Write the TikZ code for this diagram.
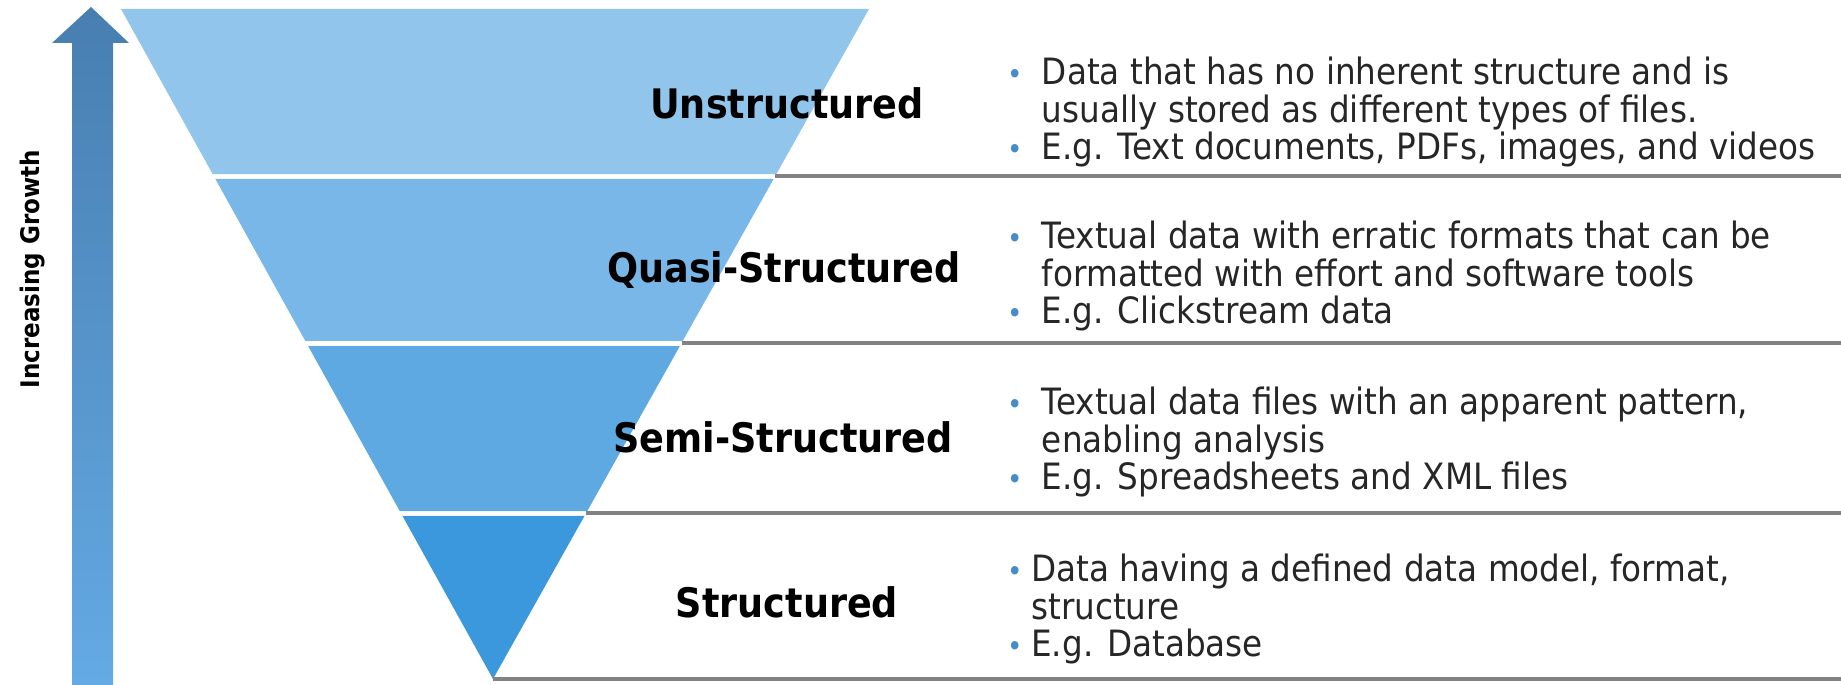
\documentclass[tikz,border=0pt]{standalone}
\usepackage{fontspec}
\setmainfont[FakeStretch=0.9]{DejaVu Sans}
\usetikzlibrary{calc}
\definecolor{bandone}{RGB}{146,197,236}
\definecolor{bandtwo}{RGB}{120,183,232}
\definecolor{bandthree}{RGB}{94,169,225}
\definecolor{bandfour}{RGB}{60,152,220}
\definecolor{arrowtop}{RGB}{72,126,176}
\definecolor{arrowbottom}{RGB}{100,170,228}
\definecolor{dotblue}{RGB}{70,140,200}
\definecolor{rulegray}{RGB}{130,130,130}
\newcommand{\dotitem}[1][26pt]{\makebox[#1][l]{\textcolor{dotblue}{\scalebox{0.8}{\textbullet}}}}
\tikzset{
  band label/.style={font=\bfseries\fontsize{30.5}{34}\selectfont, text=black, inner sep=0.75pt},
  bullet text/.style={anchor=west, align=left, font=\fontsize{27.2}{27.8}\selectfont, text=black!85, inner sep=0.75pt},
  rule line/.style={draw=rulegray, line width=2.4pt},
}
\begin{document}
\begin{tikzpicture}[x=0.75pt,y=0.75pt,yscale=-1,xscale=1]
\useasboundingbox (0,0) rectangle (1841,685);

%Shape: Arrow
\shade [top color=arrowtop, bottom color=arrowbottom] (72,685) -- (72,43) -- (52,43) -- (91,7) -- (129,43) -- (113,43) -- (113,685) -- cycle ;
% Text Node
\node [rotate=90, font=\bfseries\fontsize{19.2}{22}\selectfont, inner sep=0.75pt] (growth) at (33,269) {Increasing Growth};

%Shape: Funnel
\coordinate (tl) at (121,9);
\coordinate (tr) at (869,9);
\coordinate (ap) at (493,679);
\coordinate (rightedge) at (1841,0);
\foreach \a/\b/\c in {0/0.2463/bandone, 0.2537/0.4955/bandtwo, 0.5030/0.7493/bandthree, 0.7567/1/bandfour}
  \fill [\c] ($(tl)!\a!(ap)$) -- ($(tr)!\a!(ap)$) -- ($(tr)!\b!(ap)$) -- ($(tl)!\b!(ap)$) -- cycle ;

%Straight Lines
\coordinate (r1) at ($(tr)!0.2493!(ap)$);
\coordinate (r2) at ($(tr)!0.4985!(ap)$);
\coordinate (r3) at ($(tr)!0.7522!(ap)$);
\coordinate (r4) at (ap);
\foreach \r in {r1,r2,r3,r4}
  \draw [rule line] (\r) -- (\r -| rightedge) ;

% Text Node
\node [band label] (unstr) at (787,103) {Unstructured};
% Text Node
\node [band label] (quasi) at (784,270) {Quasi-Structured};
% Text Node
\node [band label] (semi) at (783,437) {Semi-Structured};
% Text Node
\node [band label] (struct) at (787,602) {Structured};

% Text Node
\node [bullet text] (unstrtext) at (1006,112) {\dotitem Data that has no inherent structure and is\\ \hspace*{26pt}usually stored as different types of files.\\ \dotitem E.g. Text documents, PDFs, images, and videos};
% Text Node
\node [bullet text] (quasitext) at (1006,276) {\dotitem Textual data with erratic formats that can be\\ \hspace*{26pt}formatted with effort and software tools\\ \dotitem E.g. Clickstream data};
% Text Node
\node [bullet text] (semitext) at (1006,442) {\dotitem Textual data files with an apparent pattern,\\ \hspace*{26pt}enabling analysis\\ \dotitem E.g. Spreadsheets and XML files};
% Text Node
\node [bullet text] (structtext) at (1006,609) {\dotitem[18pt]Data having a defined data model, format,\\ \hspace*{18pt}structure\\ \dotitem[18pt]E.g. Database};

\end{tikzpicture}
\end{document}
